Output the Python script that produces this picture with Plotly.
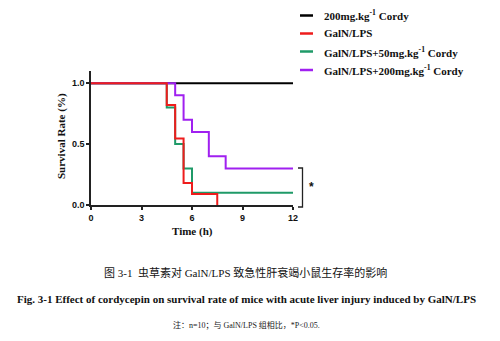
import plotly.graph_objects as go

# ---- data ----
series_names = [
    "200mg.kg<sup>-1</sup> Cordy",
    "GalN/LPS",
    "GalN/LPS+50mg.kg<sup>-1</sup> Cordy",
    "GalN/LPS+200mg.kg<sup>-1</sup> Cordy",
]
series_colors = ["#000000", "#ee1c1c", "#1f9a68", "#a020f0"]

black_x = [0, 12]
black_y = [1.0, 1.0]
red_x = [0, 4.5, 5, 5.5, 6, 7.5]
red_y = [1.0, 0.82, 0.545, 0.18, 0.09, 0.0]
green_x = [0, 4.5, 5, 5.5, 6, 12]
green_y = [1.0, 0.8, 0.5, 0.3, 0.1, 0.1]
purple_x = [0, 5, 5.5, 6, 7, 8, 12]
purple_y = [1.0, 0.9, 0.7, 0.6, 0.4, 0.3, 0.3]

x_ticks = [0, 3, 6, 9, 12]
y_ticks = [0.0, 0.5, 1.0]
y_ticklabels = ["0.0", "0.5", "1.0"]

caption_cn = "图 3-1  虫草素对 GalN/LPS 致急性肝衰竭小鼠生存率的影响"
caption_en = "Fig. 3-1 Effect of cordycepin on survival rate of mice with acute liver injury induced by GalN/LPS"
note = "注：n=10；与 GalN/LPS 组相比，*P&lt;0.05."

data = {
    0: (black_x, black_y),
    1: (red_x, red_y),
    2: (green_x, green_y),
    3: (purple_x, purple_y),
}
draw_order = [0, 2, 3, 1]

fig = go.Figure()
for i in draw_order:
    xs, ys = data[i]
    fig.add_trace(go.Scatter(
        x=xs, y=ys, mode="lines", line=dict(color=series_colors[i], width=2, shape="hv"),
        name=series_names[i], showlegend=False, cliponaxis=False,
    ))

serif = "Liberation Serif, Times New Roman, serif"
sans = "Liberation Sans, Arial, sans-serif"

fig.update_layout(
    width=500, height=341,
    margin=dict(l=91, r=207, t=71, b=136),
    paper_bgcolor="white", plot_bgcolor="white",
    xaxis=dict(
        range=[0, 12], tickvals=x_ticks, ticks="outside", ticklen=3, tickwidth=1.5,
        tickcolor="#222", showline=True, linecolor="#222", linewidth=1.5,
        showgrid=False, zeroline=False,
        tickfont=dict(family=sans, size=9, color="#111", weight="bold"),
    ),
    yaxis=dict(
        range=[0, 1.1], tickvals=y_ticks, ticktext=y_ticklabels, ticks="outside",
        ticklen=3, tickwidth=1.5, tickcolor="#222", showline=True, linecolor="#222",
        linewidth=1.5, showgrid=False, zeroline=False,
        tickfont=dict(family=sans, size=9, color="#111", weight="bold"),
    ),
    showlegend=False,
)

# convert pixel positions to paper coordinates
PL, PR, PT, PB = 91, 293, 71, 205
def px(xp):
    return (xp - PL) / (PR - PL)
def py(yp):
    return (PB - yp) / (PB - PT)

annotations = []
shapes = []

def text(t, xp, yp, size, family, anchor="center", bold=False, color="#111", angle=0):
    f = dict(family=family, size=size, color=color)
    if bold:
        f["weight"] = "bold"
    annotations.append(dict(text=t, x=px(xp), y=py(yp), xref="paper", yref="paper",
                            xanchor=anchor, yanchor="middle", showarrow=False,
                            textangle=angle, font=f))

# axis titles
text("Time (h)", 192, 231, 11, serif, bold=True)
text("Survival Rate (%)", 61, 136, 11, serif, bold=True, angle=-90)

# manual legend
legend_rows = [15.5, 33.5, 51.5, 70]
for i, name in enumerate(series_names):
    yy = py(legend_rows[i])
    shapes.append(dict(type="line", xref="paper", yref="paper", x0=px(300), x1=px(313),
                       y0=yy, y1=yy, line=dict(color=series_colors[i], width=2.5)))
    text(name, 322, legend_rows[i], 11, serif, anchor="left", bold=True)

# significance bracket
bx0, bx1 = px(298), px(302.5)
by0, by1 = py(168), py(207)
shapes.append(dict(type="path", xref="paper", yref="paper",
                   path=f"M {bx0},{by0} L {bx1},{by0} L {bx1},{by1} L {bx0},{by1}",
                   line=dict(color="#222", width=1.3)))
text("*", 311, 187, 12, sans, bold=True)

# captions
text(caption_cn, 245, 272, 11, "Liberation Serif, Noto Sans CJK SC")
text(caption_en, 246, 299, 11, serif, bold=True)
text(note, 246, 325, 8, "Liberation Serif, Noto Sans CJK SC", color="#222")

fig.update_layout(annotations=annotations, shapes=shapes)
fig.write_html("out.html")
